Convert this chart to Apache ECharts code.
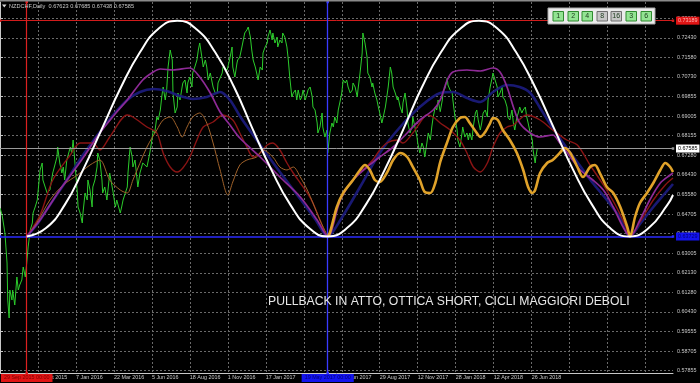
<!DOCTYPE html>
<html><head><meta charset="utf-8">
<script src="https://cdn.jsdelivr.net/npm/echarts@6/dist/echarts.min.js"></script>
<style>html,body{margin:0;padding:0;background:#000;}#c{width:700px;height:383px;}</style>
</head><body><div id="c"></div>
<script>
// ---------- data ----------
const symbolName = 'NZDCHF,Daily';
const ohlc = ['0.67623', '0.67685', '0.67438', '0.67585'];
const yTicks = [0.57855, 0.58705, 0.59555, 0.60430, 0.61280, 0.62130, 0.63005, 0.63855, 0.64705, 0.65580, 0.66430, 0.67280, 0.68155, 0.69005, 0.69855, 0.70730, 0.71580, 0.72430, 0.73280];
const xGridBars = [54, 108, 162, 216, 270, 324, 378, 432, 486, 540, 594, 648, 702, 756, 810, 864, 918];
const xLabelBars = [54, 108, 162, 216, 270, 324, 378, 432, 486, 540, 594, 648, 702, 756];
const xLabels = ['22 Oct 2015', '7 Jan 2016', '22 Mar 2016', '5 Jun 2016', '18 Aug 2016', '1 Nov 2016', '17 Jan 2017', '3 Apr 2017', '16 Jun 2017', '29 Aug 2017', '12 Nov 2017', '28 Jan 2018', '12 Apr 2018', '26 Jun 2018'];
const lastClose = 0.67585;
const topLevel = 0.73189;
const bottomLevel = 0.63729;
const startBar = 38, lowBar = 466;
const startLabel = '29 Sep 2015 00:00';
const lowLabel = '19 May 2017 00:00';
const note = 'PULLBACK IN ATTO, OTTICA SHORT, CICLI MAGGIORI DEBOLI';
const buttonNames = ['1', '2', '4', '8', '16', '3', '6'];
const buttonOn = [true, true, true, false, false, true, true];

const closePrice = [[0,0.64978],[3,0.64671],[7,0.63883],[10,0.62567],[11,0.60945],[13,0.60157],[14,0.61384],[17,0.60945],[18,0.61384],[21,0.60726],[24,0.61954],[26,0.61384],[28,0.61603],[31,0.61822],[33,0.62392],[36,0.61954],[38,0.62567],[40,0.63269],[43,0.64014],[46,0.64321],[47,0.64759],[50,0.65022],[53,0.65329],[57,0.66644],[60,0.66951],[61,0.66206],[67,0.65636],[71,0.65767],[75,0.66512],[81,0.67214],[82,0.67652],[85,0.66951],[88,0.66512],[90,0.66776],[92,0.66206],[95,0.67082],[100,0.67652],[102,0.67389],[104,0.67959],[107,0.66776],[110,0.65636],[111,0.65022],[114,0.64759],[117,0.64321],[118,0.64759],[121,0.65636],[124,0.65329],[125,0.66206],[128,0.65767],[131,0.65022],[132,0.65899],[135,0.66206],[138,0.66776],[139,0.67389],[142,0.67082],[145,0.66206],[146,0.65636],[149,0.65899],[152,0.65329],[154,0.65899],[156,0.66512],[161,0.65636],[164,0.65022],[166,0.65329],[171,0.64759],[173,0.65022],[175,0.65329],[181,0.65899],[182,0.66512],[185,0.67652],[188,0.67214],[189,0.66776],[192,0.67082],[195,0.66206],[196,0.65899],[199,0.66512],[203,0.66951],[209,0.66776],[213,0.67389],[216,0.67959],[218,0.68398],[220,0.68266],[223,0.68967],[225,0.68836],[228,0.69274],[230,0.69844],[232,0.70282],[235,0.69713],[237,0.70151],[239,0.71159],[242,0.71904],[245,0.71466],[246,0.70019],[249,0.69143],[252,0.69406],[253,0.70019],[256,0.69713],[259,0.70282],[260,0.70458],[263,0.70589],[266,0.70019],[267,0.70458],[270,0.70721],[273,0.70282],[274,0.70896],[277,0.71159],[280,0.71466],[282,0.71904],[284,0.72211],[287,0.71597],[289,0.71159],[292,0.71466],[294,0.71159],[296,0.70589],[299,0.70896],[303,0.70282],[306,0.70019],[309,0.70019],[310,0.70458],[313,0.70677],[316,0.70896],[317,0.71159],[323,0.71028],[327,0.71554],[330,0.72036],[331,0.71159],[334,0.70721],[337,0.71334],[338,0.71466],[341,0.71597],[344,0.72036],[346,0.72343],[348,0.72649],[351,0.72781],[353,0.72912],[356,0.72474],[358,0.71904],[360,0.71466],[363,0.71159],[365,0.70896],[367,0.70589],[370,0.71159],[373,0.71028],[374,0.71773],[377,0.72036],[380,0.72211],[381,0.72474],[384,0.72781],[387,0.72343],[388,0.72649],[391,0.72211],[394,0.72474],[395,0.72036],[398,0.72343],[401,0.72211],[402,0.72649],[405,0.72474],[408,0.72036],[410,0.71466],[412,0.70721],[415,0.69844],[417,0.70019],[420,0.70151],[422,0.69713],[424,0.70151],[427,0.69713],[429,0.69844],[431,0.70151],[434,0.69713],[437,0.70019],[438,0.70151],[441,0.70282],[444,0.69844],[445,0.69406],[448,0.69274],[451,0.68704],[452,0.68266],[455,0.68529],[458,0.69143],[459,0.68529],[462,0.68091],[465,0.68398],[466,0.67389],[469,0.68266],[472,0.68704],[474,0.68529],[476,0.68967],[479,0.68704],[481,0.69274],[484,0.69713],[486,0.70019],[488,0.70589],[491,0.70458],[493,0.70589],[495,0.70282],[498,0.70019],[501,0.70151],[502,0.70458],[505,0.70282],[508,0.69844],[509,0.70151],[512,0.70896],[515,0.71773],[516,0.72649],[519,0.72211],[522,0.71597],[523,0.70896],[526,0.70721],[529,0.70282],[530,0.70458],[533,0.70019],[536,0.69713],[538,0.69406],[540,0.69143],[543,0.68704],[545,0.68967],[548,0.69406],[550,0.69844],[552,0.70282],[555,0.71159],[557,0.70896],[559,0.70282],[562,0.70019],[565,0.69713],[566,0.69844],[569,0.69406],[572,0.69143],[573,0.69581],[576,0.70019],[579,0.69274],[580,0.68704],[583,0.68266],[586,0.68529],[587,0.68967],[590,0.68529],[593,0.68091],[594,0.67828],[597,0.67389],[600,0.67828],[602,0.67652],[604,0.67214],[607,0.67828],[609,0.68266],[612,0.67959],[614,0.68529],[616,0.68967],[619,0.69406],[621,0.69274],[623,0.69713],[626,0.69200],[629,0.69713],[630,0.70063],[633,0.70239],[636,0.70677],[637,0.70370],[640,0.70151],[643,0.70019],[644,0.69713],[647,0.68967],[650,0.68398],[651,0.67959],[654,0.67652],[657,0.68266],[658,0.68529],[661,0.68091],[664,0.68266],[666,0.67959],[668,0.68266],[671,0.67959],[673,0.68529],[676,0.69143],[678,0.69274],[680,0.68836],[683,0.68398],[685,0.68704],[687,0.69143],[690,0.69274],[693,0.68967],[694,0.69713],[697,0.70282],[700,0.70721],[701,0.70896],[704,0.70589],[707,0.70282],[708,0.69844],[711,0.70019],[714,0.70282],[715,0.69844],[718,0.69713],[721,0.69406],[722,0.68967],[725,0.68836],[728,0.69274],[730,0.68704],[732,0.68398],[735,0.68967],[737,0.69143],[739,0.69406],[742,0.69143],[744,0.69274],[747,0.69406],[749,0.68967],[751,0.68704],[754,0.68266],[757,0.67959],[758,0.67521],[761,0.66951],[762,0.67214],[764,0.67585]];

const cycleMain = [[38,0.63729],[65,0.64088],[92,0.65114],[118,0.66648],[145,0.68459],[172,0.70269],[199,0.71803],[225,0.72829],[252,0.73189],[279,0.72829],[306,0.71803],[333,0.70269],[359,0.68459],[386,0.66648],[413,0.65114],[440,0.64088],[466,0.63729],[493,0.64088],[520,0.65114],[547,0.66648],[574,0.68459],[600,0.70269],[627,0.71803],[654,0.72829],[681,0.73189],[708,0.72829],[734,0.71803],[761,0.70269],[788,0.68459],[815,0.66648],[842,0.65114],[868,0.64088],[895,0.63729],[922,0.64088],[949,0.65114],[957,0.65548]];

const cycleBlue = [[38,0.63729],[53,0.64277],[71,0.65110],[95,0.66206],[118,0.67302],[142,0.68310],[161,0.69055],[181,0.69713],[199,0.70063],[218,0.70195],[237,0.70107],[256,0.69888],[274,0.69756],[294,0.69844],[313,0.70063],[327,0.69713],[341,0.69011],[370,0.67740],[398,0.66556],[427,0.65373],[448,0.64496],[466,0.63729],[484,0.64452],[512,0.65899],[540,0.67389],[569,0.68529],[597,0.69406],[626,0.70019],[644,0.70063],[664,0.69800],[683,0.69625],[701,0.70063],[721,0.70370],[739,0.70282],[754,0.70019],[768,0.69362],[786,0.68485],[806,0.67608],[825,0.66819],[843,0.66074],[863,0.65329],[882,0.64540],[896,0.63729],[910,0.64277],[929,0.65022],[946,0.65636],[957,0.66030]];

const cyclePurple = [[38,0.63729],[57,0.64452],[85,0.65767],[114,0.66995],[142,0.68266],[166,0.69186],[181,0.69713],[203,0.70589],[218,0.70940],[228,0.71071],[246,0.71028],[270,0.71115],[284,0.70721],[299,0.70019],[313,0.69186],[327,0.68617],[341,0.68047],[370,0.67214],[398,0.66337],[427,0.65460],[451,0.64452],[466,0.63729],[484,0.65329],[502,0.66206],[522,0.66776],[540,0.67214],[559,0.67652],[579,0.68266],[597,0.68836],[616,0.69274],[626,0.69713],[636,0.70589],[644,0.70940],[664,0.71028],[683,0.70984],[701,0.71115],[711,0.70940],[721,0.70282],[730,0.69406],[739,0.68704],[754,0.68266],[768,0.68091],[786,0.68178],[796,0.67828],[811,0.67214],[825,0.66644],[843,0.66206],[858,0.65767],[872,0.65022],[886,0.64145],[896,0.63729],[910,0.64452],[924,0.65329],[939,0.66074],[953,0.66425],[957,0.66512]];

const cycleRed = [[38,0.63729],[57,0.64671],[75,0.66206],[100,0.67302],[114,0.67828],[132,0.67828],[142,0.67521],[156,0.68091],[181,0.69055],[189,0.68967],[209,0.68529],[223,0.68266],[232,0.67389],[242,0.66776],[252,0.66556],[260,0.66732],[270,0.67214],[280,0.67959],[289,0.68529],[303,0.68748],[317,0.69055],[331,0.68836],[341,0.68266],[351,0.67652],[360,0.67214],[370,0.67389],[380,0.67740],[388,0.67828],[398,0.67521],[408,0.66951],[417,0.66512],[427,0.66074],[437,0.65636],[445,0.65198],[455,0.64452],[466,0.63729],[474,0.64452],[488,0.65636],[502,0.66206],[516,0.66644],[530,0.67082],[540,0.67521],[550,0.67828],[565,0.67959],[573,0.67828],[587,0.68266],[597,0.68704],[607,0.69055],[616,0.68967],[626,0.68704],[640,0.68398],[654,0.67959],[664,0.67389],[673,0.66776],[683,0.66556],[693,0.66951],[701,0.67652],[711,0.68266],[721,0.68529],[730,0.68617],[749,0.69055],[768,0.68836],[786,0.68398],[806,0.67959],[821,0.67740],[839,0.66863],[858,0.65987],[875,0.65110],[889,0.64233],[896,0.63729],[910,0.64365],[929,0.65329],[946,0.65987],[957,0.66293]];

const cycleBrown = [[38,0.63729],[53,0.64365],[71,0.65329],[90,0.65987],[110,0.66425],[128,0.66863],[142,0.67082],[156,0.66206],[171,0.65767],[181,0.65636],[189,0.66206],[209,0.67652],[223,0.68398],[232,0.68836],[242,0.68967],[252,0.68529],[259,0.68091],[266,0.68529],[274,0.68967],[284,0.69143],[294,0.68704],[303,0.67828],[313,0.66644],[324,0.65548],[331,0.66118],[341,0.66863],[351,0.67082],[365,0.67214],[374,0.67521],[388,0.67214],[398,0.66776],[408,0.66644],[417,0.66776],[427,0.66337],[437,0.65767],[445,0.65198],[455,0.64452],[466,0.63729]];

const cycleOrange = [[466,0.63729],[469,0.63883],[479,0.65022],[488,0.65636],[502,0.66206],[512,0.66644],[519,0.66863],[526,0.66644],[533,0.66206],[540,0.66118],[550,0.66512],[559,0.67082],[569,0.67389],[579,0.67214],[587,0.66776],[597,0.66206],[604,0.65680],[612,0.65636],[619,0.66074],[626,0.66995],[636,0.67871],[644,0.68529],[654,0.68923],[661,0.68967],[668,0.68704],[678,0.68266],[683,0.68091],[690,0.68310],[697,0.68704],[701,0.68923],[708,0.68836],[715,0.68398],[725,0.67959],[735,0.67389],[744,0.66644],[751,0.65899],[757,0.65636],[761,0.65767],[768,0.66512],[778,0.66951],[786,0.67082],[796,0.67389],[803,0.67608],[811,0.67389],[821,0.66776],[829,0.66337],[839,0.66776],[846,0.66863],[853,0.66512],[863,0.65899],[872,0.65636],[882,0.65022],[892,0.64145],[896,0.63729],[903,0.64584],[910,0.65198],[920,0.65636],[929,0.66074],[939,0.66644],[946,0.66951],[953,0.66776],[957,0.66556]];

// ---------- chart ----------
const FONT = 'Liberation Sans';
const AX = '#c8c8c8';
const chart = echarts.init(document.getElementById('c'), null, {renderer: 'canvas'});

function cyc(name, data, color, width, z, smooth, opacity) {
  return {name, type: 'line', data, symbol: 'none', showSymbol: false, smooth: smooth,
    lineStyle: {color, width, opacity: opacity == null ? 1 : opacity}, z, silent: true, animation: false};
}

const buttonGraphics = [];
const bx = [553, 568, 582, 597, 611, 626, 641];
buttonGraphics.push({type: 'rect', shape: {x: 548, y: 8, width: 107, height: 16}, style: {fill: '#ebebeb', stroke: '#a8a8a8', lineWidth: 1}, z: 100});
buttonNames.forEach((b, i) => {
  buttonGraphics.push({type: 'rect', shape: {x: bx[i], y: 11.5, width: 10.5, height: 9.5}, style: {fill: buttonOn[i] ? '#93e493' : '#c6c6c6', stroke: buttonOn[i] ? '#2f8a2f' : '#6e6e6e', lineWidth: 1}, z: 101});
  buttonGraphics.push({type: 'text', x: bx[i] + 5.25, y: 16.5, style: {text: b, fill: '#1a3a1a', font: '7px ' + FONT, textAlign: 'center', textVerticalAlign: 'middle'}, z: 102});
});

const option = {
  backgroundColor: '#000000',
  animation: false,
  grid: {left: 0, right: 27, top: 2, bottom: 10, containLabel: false},
  xAxis: {
    type: 'value', min: 0, max: 957,
    axisLine: {show: true, onZero: false, lineStyle: {color: AX, width: 1}},
    axisTick: {show: false, customValues: xGridBars},
    axisLabel: {customValues: xLabelBars, formatter: v => xLabels[xLabelBars.indexOf(v)] || '',
      align: 'left', color: AX, fontSize: 5.4, fontFamily: FONT, margin: 2},
    splitLine: {show: true, lineStyle: {color: '#6a6a6a', type: [2, 2], width: 1}}
  },
  yAxis: {
    type: 'value', position: 'right', min: 0.57746, max: 0.74008,
    axisLine: {show: true, lineStyle: {color: AX, width: 1}},
    axisTick: {show: true, customValues: yTicks, length: 3, lineStyle: {color: AX}},
    axisLabel: {customValues: yTicks, formatter: v => v.toFixed(5), color: AX, fontSize: 5.4, fontFamily: FONT, margin: 4},
    splitLine: {show: true, lineStyle: {color: '#6a6a6a', type: [2, 2], width: 1}}
  },
  graphic: [
    {type: 'rect', shape: {x: 0, y: 0, width: 700, height: 1.5}, style: {fill: '#8a8a8a'}, z: 90},
    {type: 'polygon', shape: {points: [[2, 4.5], [6.5, 4.5], [4.25, 7.5]]}, style: {fill: '#d8d8d8'}, z: 90},
    {type: 'text', x: 9, y: 6.3, style: {text: symbolName + '  ' + ohlc.join(' '), fill: '#c8c8c8', font: '5.6px ' + FONT, textVerticalAlign: 'middle'}, z: 90},
    {type: 'text', x: 268, y: 301.5, style: {text: note, fill: '#e6e6e6', font: '12.2px ' + FONT, textVerticalAlign: 'middle'}, z: 90}
  ].concat(buttonGraphics),
  series: [
    {
      name: symbolName, type: 'line', data: closePrice, symbol: 'none', showSymbol: false,
      lineStyle: {color: '#2ccc2c', width: 1}, z: 2, silent: true,
      markLine: {
        silent: true, symbol: ['rect', 'rect'], symbolSize: 2.5, animation: false, precision: 5,
        data: [
          {yAxis: lastClose, symbol: 'none', lineStyle: {color: '#9a9a9a', width: 1, type: 'solid'},
            label: {show: true, position: 'end', formatter: lastClose.toFixed(5), backgroundColor: '#ffffff', color: '#000000', fontSize: 5.4, fontFamily: FONT, padding: [1.5, 2], distance: 3}},
          {yAxis: topLevel, lineStyle: {color: '#d21c1c', width: 1, type: 'solid'},
            label: {show: true, position: 'end', formatter: topLevel.toFixed(5), backgroundColor: '#e01414', color: '#ffb4b4', fontSize: 5.4, fontFamily: FONT, padding: [1.5, 2], distance: 3}},
          {yAxis: bottomLevel, lineStyle: {color: '#2a2aff', width: 1.5, type: 'solid'},
            label: {show: true, position: 'end', formatter: bottomLevel.toFixed(5), backgroundColor: '#1414ee', color: '#00007a', fontSize: 5.4, fontFamily: FONT, padding: [1.5, 2], distance: 3}},
          {xAxis: startBar, lineStyle: {color: '#dc2020', width: 1.2, type: 'solid'},
            label: {show: true, position: 'start', formatter: startLabel, backgroundColor: '#e01414', color: '#800000', fontSize: 5.4, fontFamily: FONT, padding: [1.5, 3], distance: 1}},
          {xAxis: lowBar, lineStyle: {color: '#3a3aff', width: 1.3, type: 'solid'},
            label: {show: true, position: 'start', formatter: lowLabel, backgroundColor: '#1414ee', color: '#00007a', fontSize: 5.4, fontFamily: FONT, padding: [1.5, 3], distance: 1}}
        ]
      }
    },
    cyc('cycle 16', cycleBlue, '#1c1c80', 2.6, 3, 0.3, 0.9),
    cyc('cycle 8', cycleRed, '#8a1414', 1.4, 4, 0.3),
    cyc('cycle 4', cycleBrown, '#a0622a', 1, 4, 0.3),
    cyc('cycle 6', cyclePurple, '#8e2a96', 1.7, 5, 0.3),
    cyc('cycle 3', cycleOrange, '#e0a22a', 2.6, 6, 0.3),
    cyc('master cycle', cycleMain, '#ffffff', 2, 7, 0.5)
  ]
};
chart.setOption(option);
</script>
</body></html>
